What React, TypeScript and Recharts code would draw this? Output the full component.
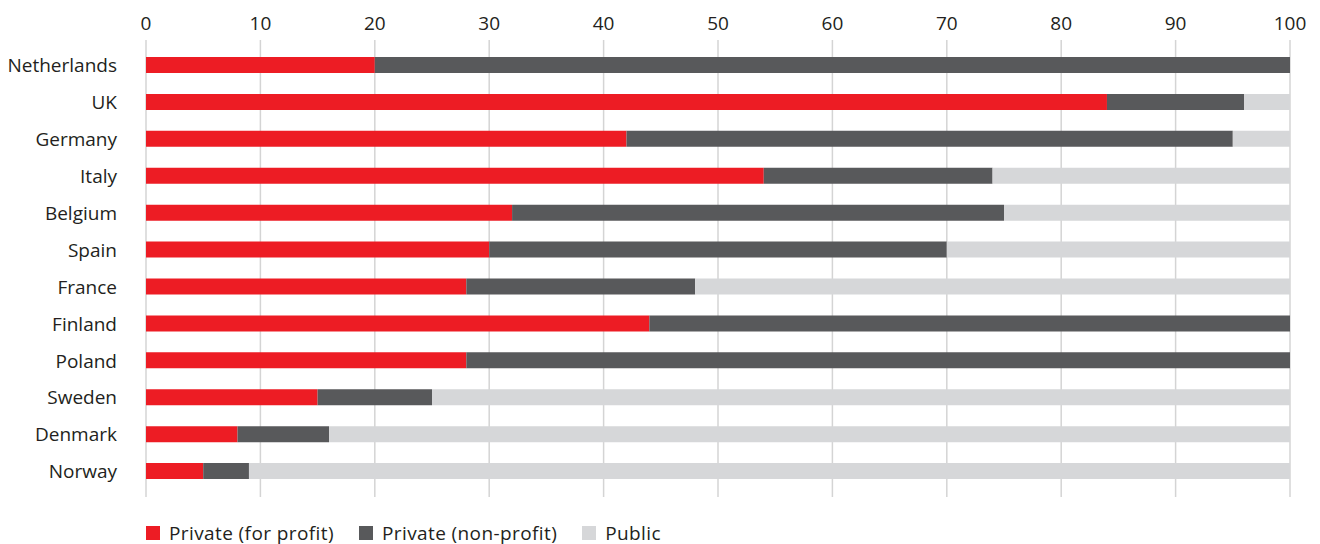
import { Bar, BarChart, CartesianGrid, Legend, XAxis, YAxis } from "recharts";

const countries = [
  "Netherlands",
  "UK",
  "Germany",
  "Italy",
  "Belgium",
  "Spain",
  "France",
  "Finland",
  "Poland",
  "Sweden",
  "Denmark",
  "Norway",
];
const forProfit = [20, 84, 42, 54, 32, 30, 28, 44, 28, 15, 8, 5];
const nonProfit = [80, 12, 53, 20, 43, 40, 20, 56, 72, 10, 8, 4];
const publicShare = [0, 4, 5, 26, 25, 30, 52, 0, 0, 75, 84, 91];
const xTicks = [0, 10, 20, 30, 40, 50, 60, 70, 80, 90, 100];

const series = [
  { key: "forProfit", name: "Private (for profit)", color: "#ED1C24" },
  { key: "nonProfit", name: "Private (non-profit)", color: "#58595B" },
  { key: "public", name: "Public", color: "#D6D7D9" },
];

const data = countries.map((country, i) => ({
  country,
  forProfit: forProfit[i],
  nonProfit: nonProfit[i],
  public: publicShare[i],
}));

const font = "'Open Sans', sans-serif";

const LegendContent = () => (
  <div
    style={{
      display: "flex",
      height: 24,
      alignItems: "center",
      fontFamily: font,
      fontSize: 19,
      letterSpacing: 0.4,
      color: "#231F20",
    }}
  >
    {series.map((s) => (
      <div key={s.key} style={{ display: "flex", alignItems: "center", marginRight: 25 }}>
        <span style={{ width: 14, height: 14, background: s.color, marginRight: 9, display: "inline-block" }} />
        <span>{s.name}</span>
      </div>
    ))}
  </div>
);

export default function App() {
  return (
    <div style={{ position: "absolute", left: 0, top: 0, width: 1320, height: 544, background: "#fff" }}>
      <BarChart
        width={1320}
        height={544}
        data={data}
        layout="vertical"
        margin={{ top: 8, right: 30, left: 0, bottom: 23 }}
        barSize={16}
      >
        <CartesianGrid horizontal={false} stroke="#d4d4d4" strokeWidth={1.5} />
        <XAxis
          type="number"
          orientation="top"
          domain={[0, 100]}
          ticks={xTicks}
          height={32}
          axisLine={false}
          tickLine={false}
          tickSize={0}
          tickMargin={10}
          tick={{ fill: "#231F20", fontSize: 19, fontFamily: font }}
          interval={0}
        />
        <YAxis
          type="category"
          dataKey="country"
          width={146}
          axisLine={false}
          tickLine={false}
          tickSize={0}
          tickMargin={29}
          padding={{ top: 7, bottom: 7 }}
          tick={{ fill: "#231F20", fontSize: 19, fontFamily: font }}
          interval={0}
        />
        <Legend
          verticalAlign="bottom"
          align="left"
          content={<LegendContent />}
          wrapperStyle={{ top: 521, left: 146, bottom: "auto", width: "auto" }}
        />
        {series.map((s) => (
          <Bar key={s.key} dataKey={s.key} name={s.name} stackId="a" fill={s.color} isAnimationActive={false} />
        ))}
      </BarChart>
    </div>
  );
}
